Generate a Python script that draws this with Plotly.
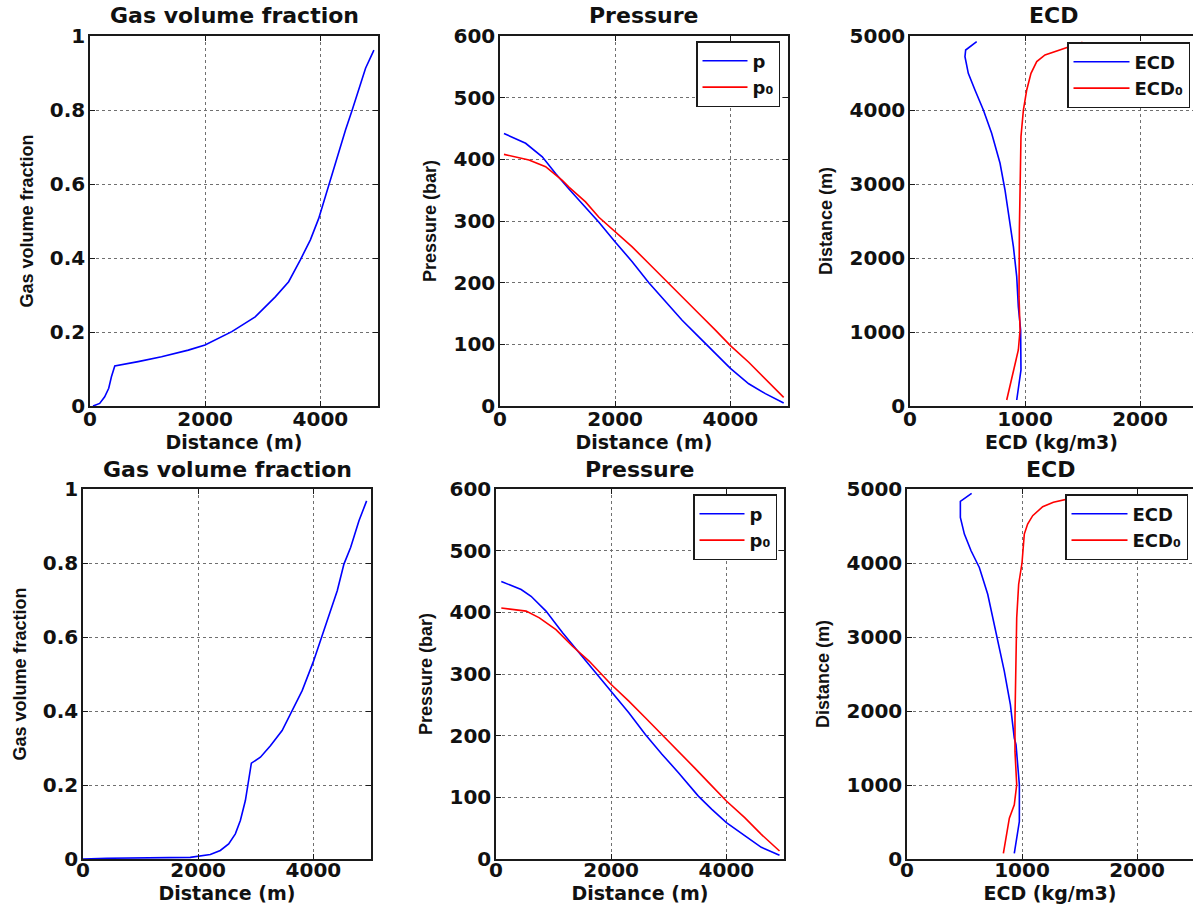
import plotly.graph_objects as go

# ---------------- data ----------------
# Row 1
gvf1_dist = [52, 168, 255, 325, 372, 430, 836, 1242, 1707, 1997, 2462, 2868, 3217, 3449, 3652, 3826,
             3971, 4117, 4291, 4436, 4552, 4668, 4784, 4929]
gvf1_val = [0, 0.007, 0.025, 0.048, 0.079, 0.108, 0.120, 0.133, 0.151, 0.165, 0.201, 0.241, 0.295, 0.336,
            0.395, 0.449, 0.507, 0.584, 0.669, 0.746, 0.8, 0.854, 0.913, 0.962]

p1_dist = [69, 445, 734, 965, 1197, 1485, 1717, 2000, 2295, 2584, 2873, 3162, 3451, 3740, 4000, 4318, 4607, 4925]
p1_val = [442, 426, 404, 377, 352, 323, 298, 266, 234, 200, 169, 139, 112, 85, 61, 36, 20, 5]
p01_dist = [69, 503, 792, 1081, 1197, 1485, 1717, 2000, 2295, 2584, 2930, 3220, 3451, 3740, 4000, 4318, 4607, 4925]
p01_val = [408, 399, 388, 366, 355, 331, 306, 282, 258, 231, 198, 171, 150, 123, 98, 71, 44, 14]

ecd1_dist = [4924, 4811, 4721, 4496, 4271, 4000, 3685, 3280, 2919, 2469, 2153, 1748, 1342, 1027, 487, 81]
ecd1_val = [580, 484, 478, 507, 565, 638, 710, 783, 826, 870, 899, 928, 942, 962, 965, 928]
ecd01_dist = [4915, 4802, 4744, 4654, 4496, 4271, 4000, 3640, 3054, 2379, 1478, 1027, 757, 487, 81]
ecd01_val = [1500, 1276, 1174, 1102, 1052, 1015, 986, 965, 957, 951, 948, 957, 942, 899, 841]

# Row 2
gvf2_dist = [0, 412, 1862, 2007, 2210, 2384, 2529, 2645, 2732, 2819, 2877, 2923, 3080, 3254, 3457, 3602,
             3805, 3996, 4124, 4269, 4414, 4530, 4646, 4791, 4924]
gvf2_val = [0, 0.002, 0.0045, 0.007, 0.012, 0.023, 0.041, 0.068, 0.104, 0.158, 0.212, 0.259, 0.275, 0.306,
            0.347, 0.392, 0.455, 0.532, 0.590, 0.658, 0.725, 0.797, 0.842, 0.914, 0.968]

p2_dist = [92, 437, 609, 868, 1156, 1430, 1673, 2000, 2306, 2593, 2881, 3168, 3513, 3743, 4000, 4318, 4606, 4922]
p2_val = [450, 437, 426, 402, 367, 336, 307, 270, 237, 202, 170, 140, 102, 81, 59, 38, 19, 6]
p02_dist = [92, 523, 753, 1041, 1329, 1616, 2000, 2306, 2593, 2881, 3168, 3456, 3743, 4000, 4318, 4606, 4922]
p02_val = [407, 402, 391, 372, 345, 321, 283, 256, 229, 202, 175, 147, 119, 94, 67, 40, 13]

ecd2_dist = [4942, 4833, 4616, 4391, 4165, 3939, 3577, 3080, 2539, 2087, 1635, 1545, 1319, 1003, 506, 280, 77]
ecd2_val = [562, 464, 464, 499, 557, 629, 702, 774, 846, 899, 933, 948, 962, 977, 977, 954, 933]
ecd02_dist = [4900, 4820, 4761, 4639, 4526, 4391, 4000, 3713, 3261, 2584, 1906, 1454, 1003, 732, 551, 77]
ecd02_val = [1500, 1273, 1180, 1093, 1049, 1020, 1000, 971, 954, 945, 939, 939, 954, 933, 890, 838]

# tick labels
gvf_ticks = [0, 0.2, 0.4, 0.6, 0.8, 1]
gvf_ticktext = ["0", "0.2", "0.4", "0.6", "0.8", "1"]
dist_ticks = [0, 2000, 4000]
pres_ticks = [0, 100, 200, 300, 400, 500, 600]
ecd_ticks = [0, 1000, 2000]
depth_ticks = [0, 1000, 2000, 3000, 4000, 5000]

# ---------------- layout helpers ----------------
W, H = 1193, 905
BLUE, RED = "#0000ff", "#ff0000"
INK = "#1a1a1a"
TXT = "#111111"
FONT = "DejaVu Sans"
YFONT = "Liberation Sans, Arial, sans-serif"


def dom_x(l, r):
    return [l / W, min(r / W, 1.0)]


def dom_y(t, b):
    return [1 - b / H, 1 - t / H]


# pixel boxes (left, right, top, bottom)
boxes = [
    (90, 378, 36, 406),
    (500, 788, 36, 406),
    (910, 1193, 36, 406),
    (83, 371, 489, 859),
    (496, 784, 489, 859),
    (907, 1193, 489, 859),
]

fig = go.Figure()

line = dict(width=1.6)
# panel 1
fig.add_trace(go.Scatter(x=gvf1_dist, y=gvf1_val, mode="lines", line=dict(color=BLUE, **line),
                         xaxis="x", yaxis="y", showlegend=False))
# panel 2
fig.add_trace(go.Scatter(x=p1_dist, y=p1_val, mode="lines", name="p", line=dict(color=BLUE, **line),
                         xaxis="x2", yaxis="y2", legend="legend"))
fig.add_trace(go.Scatter(x=p01_dist, y=p01_val, mode="lines", name="p₀", line=dict(color=RED, **line),
                         xaxis="x2", yaxis="y2", legend="legend"))
# panel 3
fig.add_trace(go.Scatter(x=ecd1_val, y=ecd1_dist, mode="lines", name="ECD", line=dict(color=BLUE, **line),
                         xaxis="x3", yaxis="y3", legend="legend2"))
fig.add_trace(go.Scatter(x=ecd01_val, y=ecd01_dist, mode="lines", name="ECD₀", line=dict(color=RED, **line),
                         xaxis="x3", yaxis="y3", legend="legend2"))
# panel 4
fig.add_trace(go.Scatter(x=gvf2_dist, y=gvf2_val, mode="lines", line=dict(color=BLUE, **line),
                         xaxis="x4", yaxis="y4", showlegend=False))
# panel 5
fig.add_trace(go.Scatter(x=p2_dist, y=p2_val, mode="lines", name="p", line=dict(color=BLUE, **line),
                         xaxis="x5", yaxis="y5", legend="legend3"))
fig.add_trace(go.Scatter(x=p02_dist, y=p02_val, mode="lines", name="p₀", line=dict(color=RED, **line),
                         xaxis="x5", yaxis="y5", legend="legend3"))
# panel 6
fig.add_trace(go.Scatter(x=ecd2_val, y=ecd2_dist, mode="lines", name="ECD", line=dict(color=BLUE, **line),
                         xaxis="x6", yaxis="y6", legend="legend4"))
fig.add_trace(go.Scatter(x=ecd02_val, y=ecd02_dist, mode="lines", name="ECD₀", line=dict(color=RED, **line),
                         xaxis="x6", yaxis="y6", legend="legend4"))

common = dict(
    showline=True, linecolor=INK, linewidth=1.5,
    ticks="inside", ticklen=5, tickcolor=INK, tickwidth=1,
    showgrid=True, gridcolor="#707070", griddash="dot", gridwidth=1,
    zeroline=False, automargin=False,
    tickfont=dict(family=FONT, size=20, color=TXT, weight="bold"),
)
xtitle_font = dict(family=FONT, size=19, color=TXT, weight="bold")
ytitle_font = dict(family=YFONT, size=18, color=TXT, weight="bold")

panel_specs = [
    # (x range, x ticks, x ticktext, x title, y range, y ticks, y ticktext, y title, full frame)
    ([0, 5000], dist_ticks, None, "Distance (m)", [0, 1], gvf_ticks, gvf_ticktext, "Gas volume fraction", True),
    ([0, 5000], dist_ticks, None, "Distance (m)", [0, 600], pres_ticks, None, "Pressure (bar)", True),
    ([0, 1000 * (1193 - 910) / 115], ecd_ticks, None, "ECD (kg/m3)", [0, 5000], depth_ticks, None, "Distance (m)", False),
    ([0, 5000], dist_ticks, None, "Distance (m)", [0, 1], gvf_ticks, gvf_ticktext, "Gas volume fraction", True),
    ([0, 5000], dist_ticks, None, "Distance (m)", [0, 600], pres_ticks, None, "Pressure (bar)", True),
    ([0, 1000 * (1193 - 907) / 115], ecd_ticks, None, "ECD (kg/m3)", [0, 5000], depth_ticks, None, "Distance (m)", False),
]

layout_axes = {}
for i, ((l, r, t, b), spec) in enumerate(zip(boxes, panel_specs), start=1):
    xr, xt, xtt, xtitle, yr, yt, ytt, ytitle, full = spec
    suffix = "" if i == 1 else str(i)
    xa = dict(common, domain=dom_x(l, r), range=xr, tickvals=xt, anchor="y" + suffix,
              mirror="ticks", ticklabelstandoff=-6 if i <= 3 else -8,
              title=dict(text=xtitle, font=xtitle_font, standoff=1))
    if xtt:
        xa["ticktext"] = xtt
    ya = dict(common, domain=dom_y(t, b), range=yr, tickvals=yt, anchor="x" + suffix,
              mirror="ticks" if full else False, ticklabelstandoff=-1,
              title=dict(text=ytitle, font=ytitle_font, standoff=12))
    if ytt:
        ya["ticktext"] = ytt
    layout_axes["xaxis" + suffix] = xa
    layout_axes["yaxis" + suffix] = ya

fig.update_layout(**layout_axes)

# panel titles
titles = ["Gas volume fraction", "Pressure", "ECD", "Gas volume fraction", "Pressure", "ECD"]
title_y = [16, 16, 16, 469, 469, 469]
title_cx = [234, 644, 1053, 227, 640, 1050]
annotations = []
for txt, cy, cx in zip(titles, title_y, title_cx):
    annotations.append(dict(text=txt, x=cx / W, y=1 - cy / H, xref="paper", yref="paper",
                            xanchor="center", yanchor="middle", showarrow=False,
                            font=dict(family=FONT, size=22, color=TXT, weight="bold")))
fig.update_layout(annotations=annotations)

legend_style = dict(xref="paper", yref="paper", xanchor="right", yanchor="top",
                    bgcolor="white", bordercolor=INK, borderwidth=1.5,
                    font=dict(family=FONT, size=18, color=TXT, weight="bold"),
                    itemwidth=45, tracegroupgap=0)
ecd_legend_style = dict(legend_style, itemwidth=56)
fig.update_layout(
    legend=dict(legend_style, x=780 / W, y=1 - 41 / H),
    legend2=dict(ecd_legend_style, x=1190 / W, y=1 - 42 / H),
    legend3=dict(legend_style, x=777 / W, y=1 - 494 / H),
    legend4=dict(ecd_legend_style, x=1188 / W, y=1 - 494 / H),
)

fig.update_layout(
    width=W, height=H,
    margin=dict(l=0, r=0, t=0, b=0),
    paper_bgcolor="white", plot_bgcolor="white",
    showlegend=True,
)

fig.write_html("out.html")
